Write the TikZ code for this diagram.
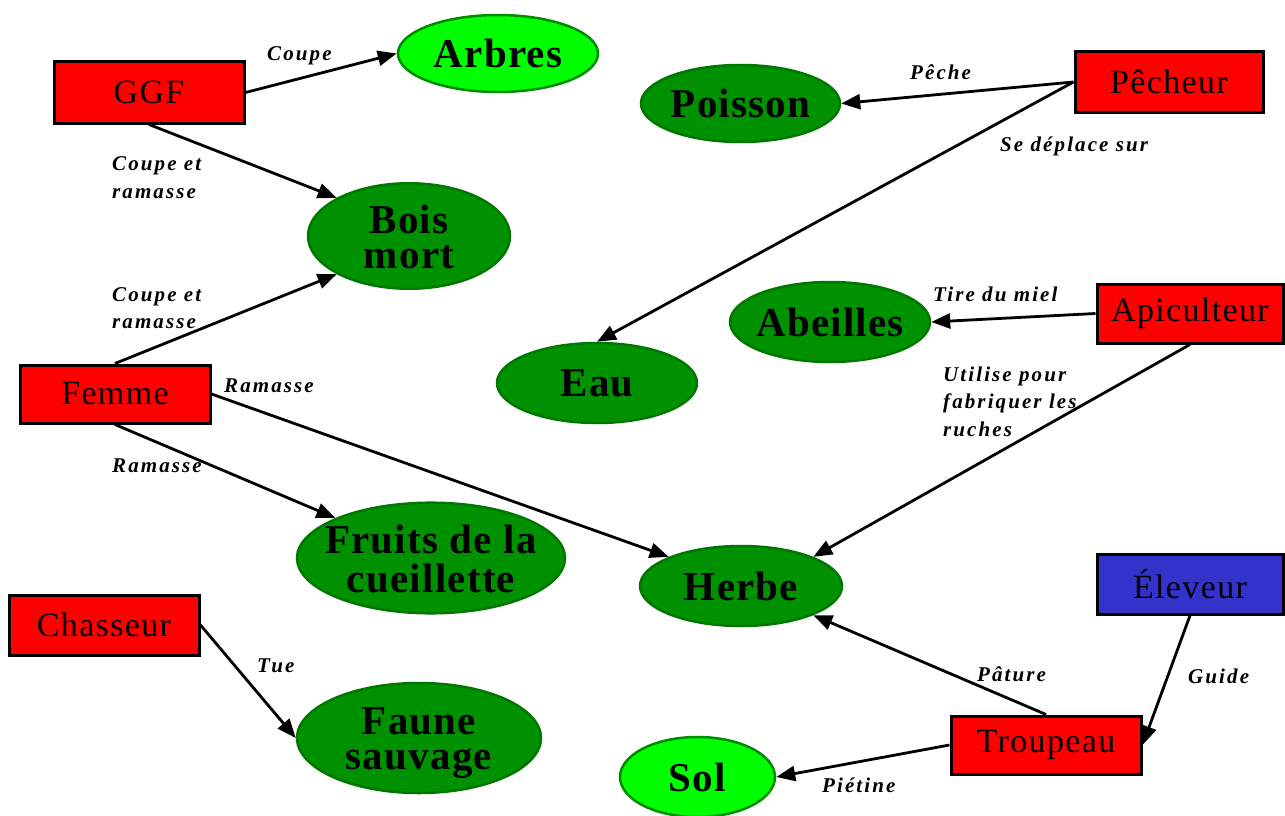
\documentclass[tikz,border=0pt]{standalone}
\usepackage{fontspec}
\setmainfont{Liberation Serif}
\newfontfamily\boxfont[LetterSpace=4]{Liberation Serif}
\newfontfamily\ellfont[LetterSpace=3]{Liberation Serif}
\newfontfamily\lblfont[LetterSpace=10]{Liberation Serif}
\usetikzlibrary{shapes.geometric,arrows.meta}

\definecolor{boxred}{RGB}{255,0,0}
\definecolor{boxblue}{RGB}{51,51,204}
\definecolor{darkfill}{RGB}{0,145,0}
\definecolor{darkedge}{RGB}{0,120,0}
\definecolor{lightfill}{RGB}{0,255,0}
\definecolor{lightedge}{RGB}{0,140,0}

% centred text of no width, so the ellipse keeps its given size
\newcommand\onel[1]{\makebox[0pt]{#1}}
\newcommand\twol[2]{\makebox[0pt]{\raisebox{-6pt}[\height][\depth]{\begin{tabular}{@{}c@{}}#1\\#2\end{tabular}}}}

\tikzset{
  actor/.style={draw=black, line width=3pt, fill=boxred, minimum width=190pt,
    minimum height=60pt, inner sep=0pt, font=\boxfont\fontsize{34}{38}\selectfont},
  res/.style={ellipse, draw=darkedge, line width=2.5pt, fill=darkfill, inner sep=0pt,
    minimum width=200pt, minimum height=80pt,
    font=\ellfont\bfseries\fontsize{41}{35.5}\selectfont},
  reslight/.style={res, draw=lightedge, fill=lightfill},
  rel/.style={line width=2.8pt, -{Triangle[length=19pt,width=15pt]}},
  lbl/.style={inner sep=0pt, font=\lblfont\bfseries\itshape\fontsize{21}{27.5}\selectfont},
}

\begin{document}
\begin{tikzpicture}[x=1pt,y=-1pt]
\fill[white] (0,0) rectangle (1285,816);
\useasboundingbox (0,0) rectangle (1285,816);

% actors
\node[actor, minimum height=61pt] (ggf) at (149,92.5) {GGF};
\node[actor, minimum width=188pt] (pecheur) at (1169,82) {Pêcheur};
\node[actor, minimum width=186pt, minimum height=59pt] (apic) at (1190,313.5) {Apiculteur};
\node[actor, minimum height=58pt] (femme) at (115,394) {Femme};
\node[actor, minimum width=186pt, fill=boxblue] (eleveur) at (1190,584) {Éleveur};
\node[actor] (chasseur) at (104,625) {Chasseur};
\node[actor, minimum height=58pt] (troupeau) at (1046,745) {Troupeau};

% resources
\node[reslight, minimum height=77pt] (arbres) at (498,53.5) {\onel{Arbres}};
\node[res, minimum width=199pt, minimum height=77pt] (poisson) at (740.5,103.5) {\onel{Poisson}};
\node[res, minimum width=202pt, minimum height=88pt] (bois) at (409,236) {\twol{Bois}{mort}};
\node[res] (abeilles) at (830,322) {\onel{Abeilles}};
\node[res] (eau) at (597,383) {\onel{Eau}};
\node[res, minimum width=268pt, minimum height=110pt] (fruits) at (431,558) {\twol{Fruits de la}{cueillette}};
\node[res, minimum width=202pt] (herbe) at (741,586) {\onel{Herbe}};
\node[res, minimum width=244pt, minimum height=110pt] (faune) at (419,738) {\twol{Faune}{sauvage}};
\node[reslight, minimum width=155pt] (sol) at (697.5,777) {\onel{Sol}};

% relations
\draw[rel] (ggf.east) -- (arbres.west);
\draw[rel] (ggf.south) -- (bois.north west);
\draw[rel] (femme.north) -- (bois.south west);
\draw[rel] (femme.south) -- (fruits.north west);
\draw[rel] (femme.east) -- (herbe.north west);
\draw[rel] (pecheur.west) -- (poisson.east);
\draw[rel] (pecheur.west) -- (eau.north);
\draw[rel] (apic.west) -- (abeilles.east);
\draw[rel] (apic.south) -- (herbe.north east);
\draw[rel] (chasseur.east) -- (faune.west);
\draw[rel] (troupeau.north) -- (herbe.south east);
\draw[rel] (troupeau.west) -- (sol.east);
\draw[rel] (eleveur.south) -- (troupeau.east);

% relation labels
\node[lbl, anchor=base west] (lcoupe) at (267,60) {Coupe};
\node[lbl, align=left, anchor=north west] (lggfbois) at (112,156.5) {Coupe et\\ramasse};
\node[lbl, align=left, anchor=north west] (lfembois) at (112,287) {Coupe et\\ramasse};
\node[lbl, anchor=base west] (lramherbe) at (224,392) {Ramasse};
\node[lbl, anchor=base west] (lramfruits) at (112,472) {Ramasse};
\node[lbl, anchor=base west] (lpeche) at (910,79) {Pêche};
\node[lbl, anchor=base west] (ldeplace) at (1000,151) {Se déplace sur};
\node[lbl, anchor=base west] (lmiel) at (933,301) {Tire du miel};
\node[lbl, align=left, anchor=north west] (lruches) at (943,366.5) {Utilise pour\\fabriquer les\\ruches};
\node[lbl, anchor=base west] (ltue) at (257,672) {Tue};
\node[lbl, anchor=base west] (lpature) at (977,681) {Pâture};
\node[lbl, anchor=base west] (lguide) at (1188,683) {Guide};
\node[lbl, anchor=base west] (lpietine) at (822,792) {Piétine};
\end{tikzpicture}
\end{document}
